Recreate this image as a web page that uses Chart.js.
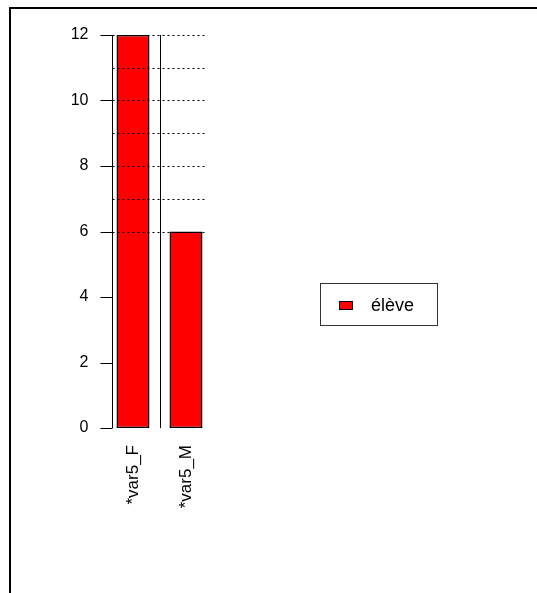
<!DOCTYPE html>
<html>
<head>
<meta charset="utf-8">
<script src="https://cdn.jsdelivr.net/npm/chart.js@4/dist/chart.umd.min.js"></script>
<style>
  html, body { margin: 0; padding: 0; background: #fff; }
  #wrap { position: relative; width: 537px; height: 593px; }
  #frame { position: absolute; left: 9px; top: 7px; right: 0; bottom: 0; border-top: 2px solid #000; border-left: 2px solid #000; }
  canvas { position: absolute; left: 0; top: 0; }
</style>
</head>
<body>
<div id="wrap">
  <div id="frame"></div>
  <canvas id="js-chart-bars"></canvas>
</div>
<script>
// Chart data
const categories = ['*var5_F', '*var5_M'];
const seriesLabel = 'élève';
const seriesValues = [12, 6];
const yTicks = [0, 2, 4, 6, 8, 10, 12];
const dottedLevels = [6, 7, 8, 9, 10, 11, 12];

const fontFamily = '"Liberation Sans", Arial, sans-serif';

// Axis line, tick marks, separator, dotted levels and legend
const rPlot = {
  id: 'rPlot',
  afterDatasetsDraw(chart) {
    const ctx = chart.ctx;
    const x = chart.scales.x;
    const y = chart.scales.y;
    const bars = chart.getDatasetMeta(0).data;
    const first = bars[0], last = bars[bars.length - 1];
    const axisX = first.x - first.width / 2 - 4;
    const endX = last.x + last.width / 2 + 2;
    const top = y.getPixelForValue(yTicks[yTicks.length - 1]);
    const bottom = y.getPixelForValue(0);

    ctx.save();
    ctx.strokeStyle = '#000';
    ctx.lineWidth = 1;

    // dotted lines
    ctx.setLineDash([2, 3]);
    dottedLevels.forEach(v => {
      const py = Math.round(y.getPixelForValue(v)) + 0.5;
      ctx.beginPath();
      ctx.moveTo(axisX, py);
      ctx.lineTo(endX, py);
      ctx.stroke();
    });
    ctx.setLineDash([]);

    // y axis
    const ax = Math.round(axisX) + 0.5;
    ctx.beginPath();
    ctx.moveTo(ax, top);
    ctx.lineTo(ax, bottom);
    yTicks.forEach(v => {
      const py = Math.round(y.getPixelForValue(v)) + 0.5;
      ctx.moveTo(ax - 12, py);
      ctx.lineTo(ax, py);
    });
    // separator between the groups
    const sx = Math.round((x.getPixelForValue(0) + x.getPixelForValue(1)) / 2) + 0.5;
    ctx.moveTo(sx, top);
    ctx.lineTo(sx, bottom);
    ctx.stroke();

    // legend
    ctx.strokeStyle = '#333';
    ctx.strokeRect(320.5, 283.5, 117, 42);
    ctx.fillStyle = '#ff0000';
    ctx.fillRect(339.5, 301.5, 13, 8);
    ctx.strokeStyle = '#000';
    ctx.strokeRect(339.5, 301.5, 13, 8);
    ctx.fillStyle = '#000';
    ctx.font = '18px ' + fontFamily;
    ctx.textBaseline = 'middle';
    ctx.fillText(seriesLabel, 371, 306);
    ctx.restore();
  }
};

new Chart(document.getElementById('js-chart-bars'), {
  type: 'bar',
  data: {
    labels: categories,
    datasets: [{
      label: seriesLabel,
      data: seriesValues,
      backgroundColor: '#ff0000',
      borderColor: '#000',
      borderWidth: 1.5,
      borderSkipped: false,
      categoryPercentage: 1,
      barPercentage: 0.623
    }]
  },
  options: {
    responsive: true,
    maintainAspectRatio: false,
    devicePixelRatio: 1,
    animation: false,
    layout: {padding: {left: 20, right: 324.5, top: 35, bottom: 0}},
    plugins: {legend: {display: false}, tooltip: {enabled: false}},
    scales: {
      x: {
        offset: true,
        grid: {display: false, drawTicks: false},
        border: {display: false},
        ticks: {
          color: '#000',
          font: {family: fontFamily, size: 17},
          minRotation: 90,
          maxRotation: 90,
          padding: 17
        },
        afterFit(scale) { scale.height = 165; }
      },
      y: {
        min: 0,
        max: 12,
        grid: {display: false, drawTicks: false},
        border: {display: false},
        afterBuildTicks(scale) { scale.ticks = yTicks.map(v => ({value: v})); },
        ticks: {
          color: '#000',
          font: {family: fontFamily, size: 16},
          padding: 18
        },
        afterFit(scale) { scale.width = 86.5; }
      }
    }
  },
  plugins: [rPlot]
});
</script>
</body>
</html>
